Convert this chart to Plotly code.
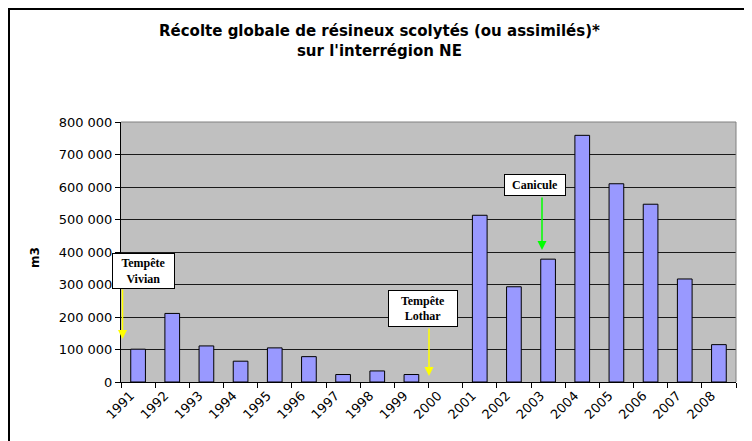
import plotly.graph_objects as go

# données : récolte annuelle (m3)
annees = [1991, 1992, 1993, 1994, 1995, 1996, 1997, 1998, 1999,
          2000, 2001, 2002, 2003, 2004, 2005, 2006, 2007, 2008]
volumes = [101000, 211000, 111000, 64000, 105000, 78000, 23000, 34000, 23000,
           None, 513000, 293000, 378000, 759000, 610000, 547000, 317000, 115000]
evenements = ["Tempête<br>Vivian", "Tempête<br>Lothar", "Canicule"]

# les barres sont au milieu de chaque case, les libellés près des séparations
positions = [i + 0.5 for i in range(len(annees))]
pos_libelles = [i + 0.28 for i in range(len(annees))]

# zone de tracé en pixels de la page (la page a une marge de 8 px)
OFF = 8
PL, PR, PT, PB = 121, 736, 122, 382
W, H = 752 - OFF, 441 - OFF


def px_x(p):
    return (p - PL) / (PR - PL)


def px_y(p):
    return (PB - p) / (PB - PT)


fig = go.Figure()
fig.add_trace(go.Bar(x=positions, y=volumes, width=0.43,
                     marker=dict(color="#9999FF", line=dict(color="black", width=1)),
                     hoverinfo="y"))

police = "DejaVu Sans"
serif = "Liberation Serif"

fig.update_layout(
    width=W, height=H,
    margin=dict(l=PL - OFF, r=W - (PR - OFF), t=PT - OFF, b=H - (PB - OFF)),
    paper_bgcolor="#FFFFC8",
    plot_bgcolor="#C0C0C0",
    separators=", ",
    showlegend=False,
    font=dict(family=police, size=12, color="black"),
)

fig.update_xaxes(range=[0, len(annees)], tickvals=pos_libelles,
                 ticktext=[str(a) for a in annees],
                 tickangle=-45, ticks="", ticklen=0,
                 minor=dict(tickvals=list(range(len(annees) + 1)), ticks="outside",
                            ticklen=5, tickcolor="black", showgrid=False),
                 showline=True, linecolor="black", linewidth=1,
                 showgrid=False, zeroline=False, automargin=False,
                 tickfont=dict(family=police, size=13))
fig.update_yaxes(range=[0, 800000], dtick=100000, tickformat=",d",
                 ticks="outside", ticklen=5, tickcolor="black",
                 showline=True, linecolor="black", linewidth=1,
                 gridcolor="#1a1a1a", gridwidth=1, zeroline=False, automargin=False,
                 tickfont=dict(family=police, size=13))

# cadre blanc du graphique sur fond jaune
fig.add_shape(type="rect", xref="paper", yref="paper",
              x0=px_x(9), x1=px_x(747), y0=px_y(470), y1=px_y(9),
              line=dict(color="black", width=2), fillcolor="white", layer="below")
# fond gris de la zone de tracé
fig.add_shape(type="rect", xref="paper", yref="paper", x0=0, x1=1, y0=0, y1=1,
              line=dict(width=0), fillcolor="#C0C0C0", layer="below")
# bord gris haut et droite de la zone de tracé
fig.add_shape(type="line", xref="paper", yref="paper", x0=0, x1=1, y0=1, y1=1,
              line=dict(color="#808080", width=1))
fig.add_shape(type="line", xref="paper", yref="paper", x0=1, x1=1, y0=0, y1=1,
              line=dict(color="#808080", width=1))

# titre
fig.add_annotation(text="<b>Récolte globale de résineux scolytés (ou assimilés)*<br>sur l'interrégion NE</b>",
                   xref="paper", yref="paper", x=px_x(379), y=px_y(40.5),
                   xanchor="center", yanchor="middle", showarrow=False,
                   font=dict(family=police, size=15, color="black"))

# titre de l'axe y
fig.add_annotation(text="<b>m3</b>", xref="paper", yref="paper",
                   x=px_x(35), y=px_y(258), xanchor="center", yanchor="middle",
                   textangle=-90, showarrow=False,
                   font=dict(family=police, size=12))

# étiquettes des événements
boites = [(143.5, 270.5, 61, 34), (423, 308, 68, 35), (535, 185, 60, 20)]
for texte, (cx, cy, w, h) in zip(evenements, boites):
    fig.add_annotation(text="<b>" + texte + "</b>", xref="paper", yref="paper",
                       x=px_x(cx), y=px_y(cy), xanchor="center", yanchor="middle",
                       showarrow=False,
                       width=w, height=h, bgcolor="white",
                       bordercolor="black", borderwidth=1, borderpad=0,
                       font=dict(family=serif, size=12, color="black"))

# flèches : (x, y début, y fin, couleur)
fleches = [(122.5, 288, 339, "#FFFF00"), (429, 327, 376, "#FFFF00"), (542, 196, 250, "#00FF00")]
for fx, y0, y1, coul in fleches:
    fig.add_annotation(text="", xref="paper", yref="paper",
                       x=px_x(fx), y=px_y(y1), ax=0, ay=-(y1 - y0),
                       axref="pixel", ayref="pixel",
                       showarrow=True, arrowhead=2, arrowsize=1.2, arrowwidth=1.5,
                       arrowcolor=coul)

fig.write_html("out.html")
